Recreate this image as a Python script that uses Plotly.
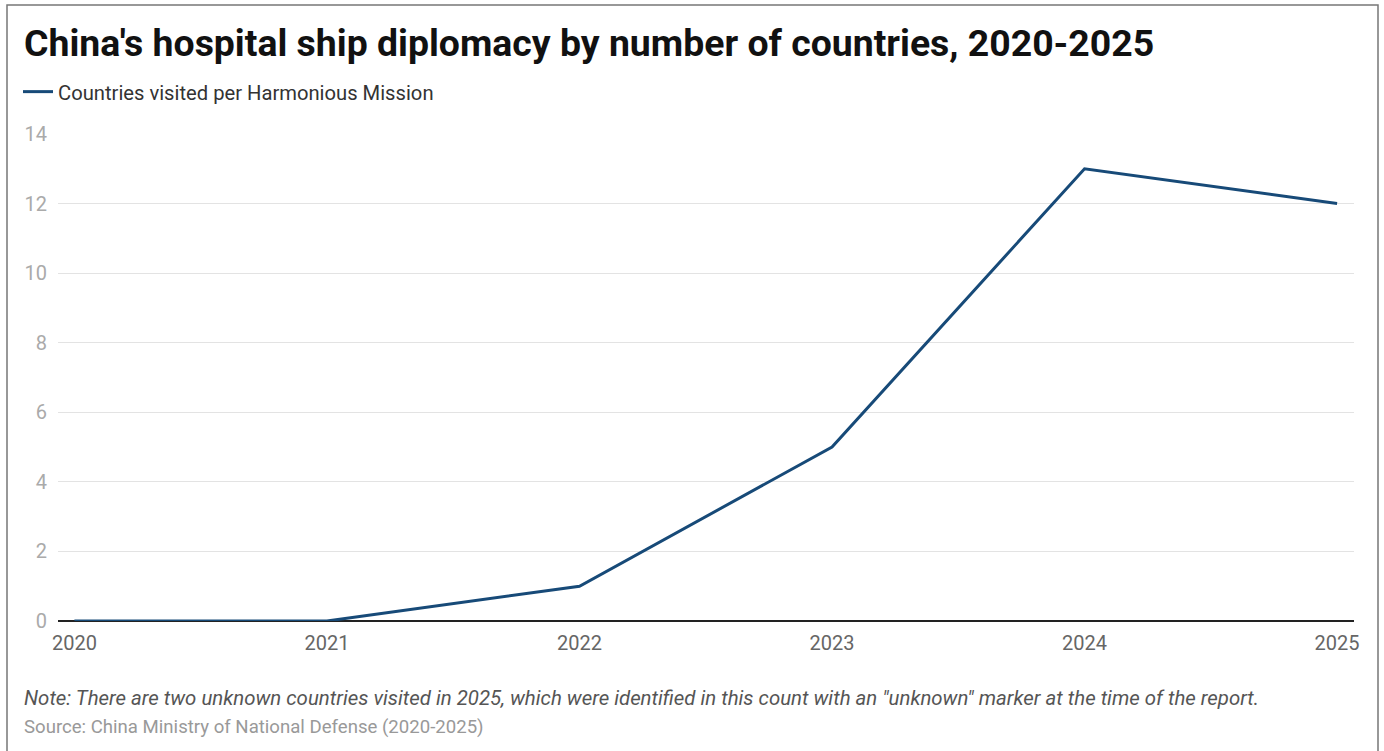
import plotly.graph_objects as go

years = [2020, 2021, 2022, 2023, 2024, 2025]
countries = [0, 0, 1, 5, 13, 12]
y_ticks = [0, 2, 4, 6, 8, 10, 12, 14]

W, H = 1384, 751
L, R, T, B = 58, 30, 134, 130
pw, ph = W - L - R, H - T - B

def px(x):
    return (x - L) / pw

def py(y):
    return (H - B - y) / ph

fig = go.Figure()
fig.add_trace(go.Scatter(
    x=years, y=countries, mode="lines",
    name="Countries visited per Harmonious Mission",
    line=dict(color="#174a78", width=3),
))

fig.update_layout(
    width=W, height=H,
    margin=dict(l=L, r=R, t=T, b=B),
    paper_bgcolor="white", plot_bgcolor="white",
    font=dict(family="Roboto", size=20, color="#333"),
    showlegend=True,
    legend=dict(
        orientation="h", x=px(18), y=py(92), xanchor="left", yanchor="middle",
        font=dict(size=20.2, color="#333"), bgcolor="rgba(0,0,0,0)",
    ),
    xaxis=dict(
        range=[2019.935, 2025.067], tickvals=years, ticktext=[str(y) for y in years],
        showgrid=False, zeroline=False, showline=False, ticks="",
        tickfont=dict(size=20, color="#666"), ticklabelstandoff=8,
    ),
    yaxis=dict(
        range=[0, 14], tickvals=y_ticks, showgrid=True, gridcolor="#e3e3e3", gridwidth=1,
        zeroline=True, zerolinecolor="#222", zerolinewidth=1.5,
        ticks="", tickfont=dict(size=20, color="#aaa"), ticklabelstandoff=10,
    ),
    shapes=[dict(
        type="rect", xref="paper", yref="paper",
        x0=px(7), x1=px(1378), y0=py(760), y1=py(5),
        line=dict(color="#777", width=1.5), fillcolor="rgba(0,0,0,0)", layer="below",
    )],
    annotations=[
        dict(text="<b>China's hospital ship diplomacy by number of countries, 2020-2025</b>",
             xref="paper", yref="paper", x=px(22), y=py(43), xanchor="left", yanchor="middle",
             showarrow=False, font=dict(size=37.4, color="#111")),
        dict(text="<i>Note: There are two unknown countries visited in 2025, which were identified in this count with an \"unknown\" marker at the time of the report.</i>",
             xref="paper", yref="paper", x=px(22), y=py(698), xanchor="left", yanchor="middle",
             showarrow=False, font=dict(size=20.4, color="#555")),
        dict(text="Source: China Ministry of National Defense (2020-2025)",
             xref="paper", yref="paper", x=px(22), y=py(727), xanchor="left", yanchor="middle",
             showarrow=False, font=dict(size=18.6, color="#999")),
    ],
)

fig.write_html("out.html")
